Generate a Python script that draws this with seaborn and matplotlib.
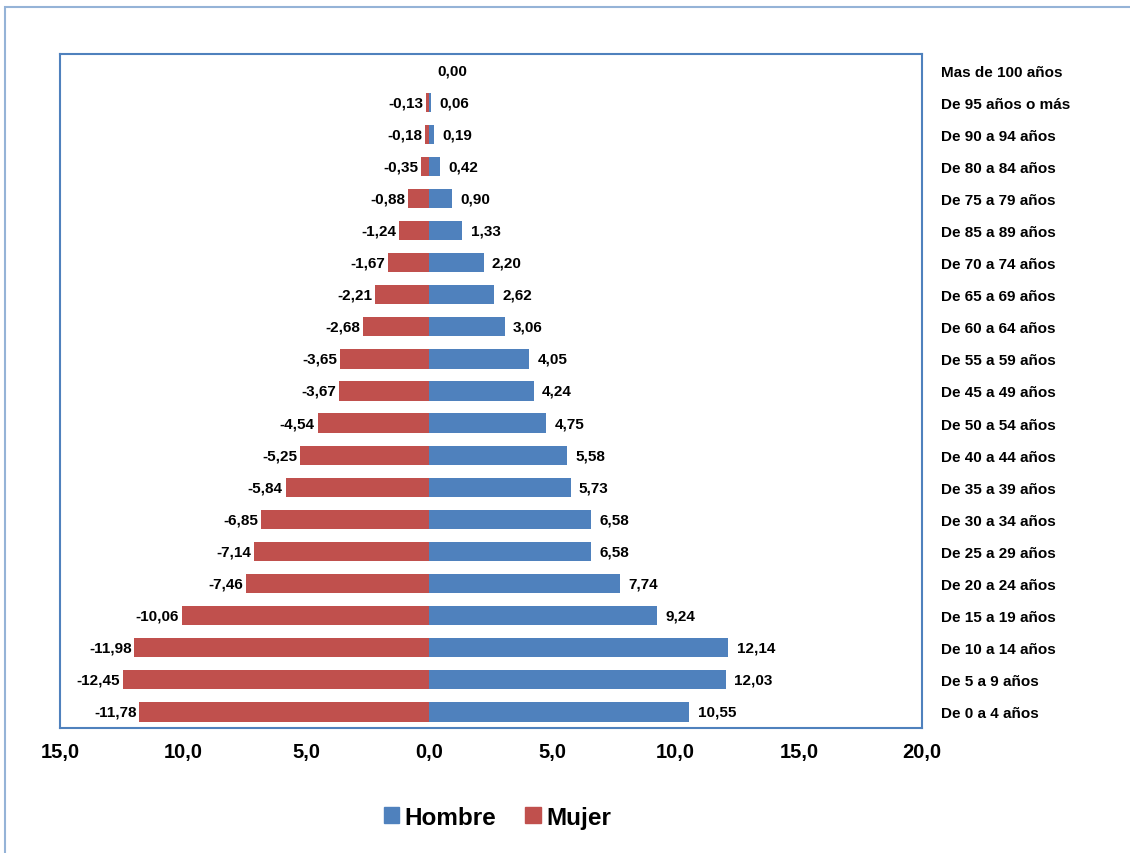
import pandas as pd
import matplotlib
matplotlib.use("Agg")
import matplotlib.pyplot as plt
import seaborn as sns
from matplotlib.patches import Rectangle, Patch

grupos = [
    "Mas de 100 años", "De 95 años o más", "De 90 a 94 años", "De 80 a 84 años",
    "De 75 a 79 años", "De 85 a 89 años", "De 70 a 74 años", "De 65 a 69 años",
    "De 60 a 64 años", "De 55 a 59 años", "De 45 a 49 años", "De 50 a 54 años",
    "De 40 a 44 años", "De 35 a 39 años", "De 30 a 34 años", "De 25 a 29 años",
    "De 20 a 24 años", "De 15 a 19 años", "De 10 a 14 años", "De 5 a 9 años",
    "De 0 a 4 años",
]
hombre = [0.00, 0.06, 0.19, 0.42, 0.90, 1.33, 2.20, 2.62, 3.06, 4.05, 4.24,
          4.75, 5.58, 5.73, 6.58, 6.58, 7.74, 9.24, 12.14, 12.03, 10.55]
mujer = [0.00, -0.13, -0.18, -0.35, -0.88, -1.24, -1.67, -2.21, -2.68, -3.65, -3.67,
         -4.54, -5.25, -5.84, -6.85, -7.14, -7.46, -10.06, -11.98, -12.45, -11.78]
xticks = [-15, -10, -5, 0, 5, 10, 15, 20]

azul = "#4F81BD"
rojo = "#C0504D"

df = pd.DataFrame({
    "grupo": grupos * 2,
    "sexo": ["Hombre"] * len(grupos) + ["Mujer"] * len(grupos),
    "valor": hombre + mujer,
})

sns.set_style("white")
plt.rcParams["font.family"] = ["Liberation Sans", "DejaVu Sans"]
plt.rcParams["font.weight"] = "bold"
plt.rcParams["text.color"] = "black"
plt.rcParams["xtick.color"] = "black"
plt.rcParams["ytick.color"] = "black"

fig = plt.figure(figsize=(11.3, 8.54), dpi=100)
ax = fig.add_axes([60 / 1130, 1 - 729 / 854, (922 - 60) / 1130, (729 - 55) / 854])

sns.barplot(data=df, y="grupo", x="valor", hue="sexo", order=grupos,
            hue_order=["Hombre", "Mujer"], palette=[azul, rojo], saturation=1,
            dodge=False, width=0.6, orient="h", ax=ax, legend=False, linewidth=0)

def fmt(v):
    return f"{v:.2f}".replace(".", ",")

ax.bar_label(ax.containers[0], labels=[fmt(v) for v in hombre], padding=6,
             fontsize=11, fontweight="bold", color="black")
ax.bar_label(ax.containers[1], labels=["" if v == 0 else fmt(v) for v in mujer],
             padding=2, fontsize=11, fontweight="bold", color="black")

ax.set_xlim(-15, 20)
ax.set_ylim(len(grupos) - 0.5, -0.5)
ax.set_xticks(xticks)
ax.set_xticklabels([f"{abs(t):.1f}".replace(".", ",") for t in xticks],
                   fontsize=14.5, fontweight="bold")
ax.yaxis.tick_right()
ax.set_yticks(range(len(grupos)))
ax.set_yticklabels(grupos, fontsize=11, fontweight="bold")
ax.tick_params(axis="y", length=0, pad=14)
ax.tick_params(axis="x", length=0, pad=10)
ax.set_xlabel("")
ax.set_ylabel("")
for s in ax.spines.values():
    s.set_visible(True)
    s.set_color("#4F81BD")
    s.set_linewidth(1.5)

handles = [Patch(color=azul, label="Hombre"), Patch(color=rojo, label="Mujer")]
fig.legend(handles=handles, loc="center", bbox_to_anchor=(0.44, 0.042), ncol=2,
           frameon=False, handlelength=0.65, handleheight=0.65, handletextpad=0.2,
           columnspacing=1.2, prop={"size": 17.5, "weight": "bold"})

fig.add_artist(Rectangle((5 / 1130, -0.1), 1.2, 1.1 - 8 / 854,
                         transform=fig.transFigure, fill=False,
                         edgecolor="#95B3D7", linewidth=1.5, clip_on=False))

fig.savefig("out.png", dpi=100)
